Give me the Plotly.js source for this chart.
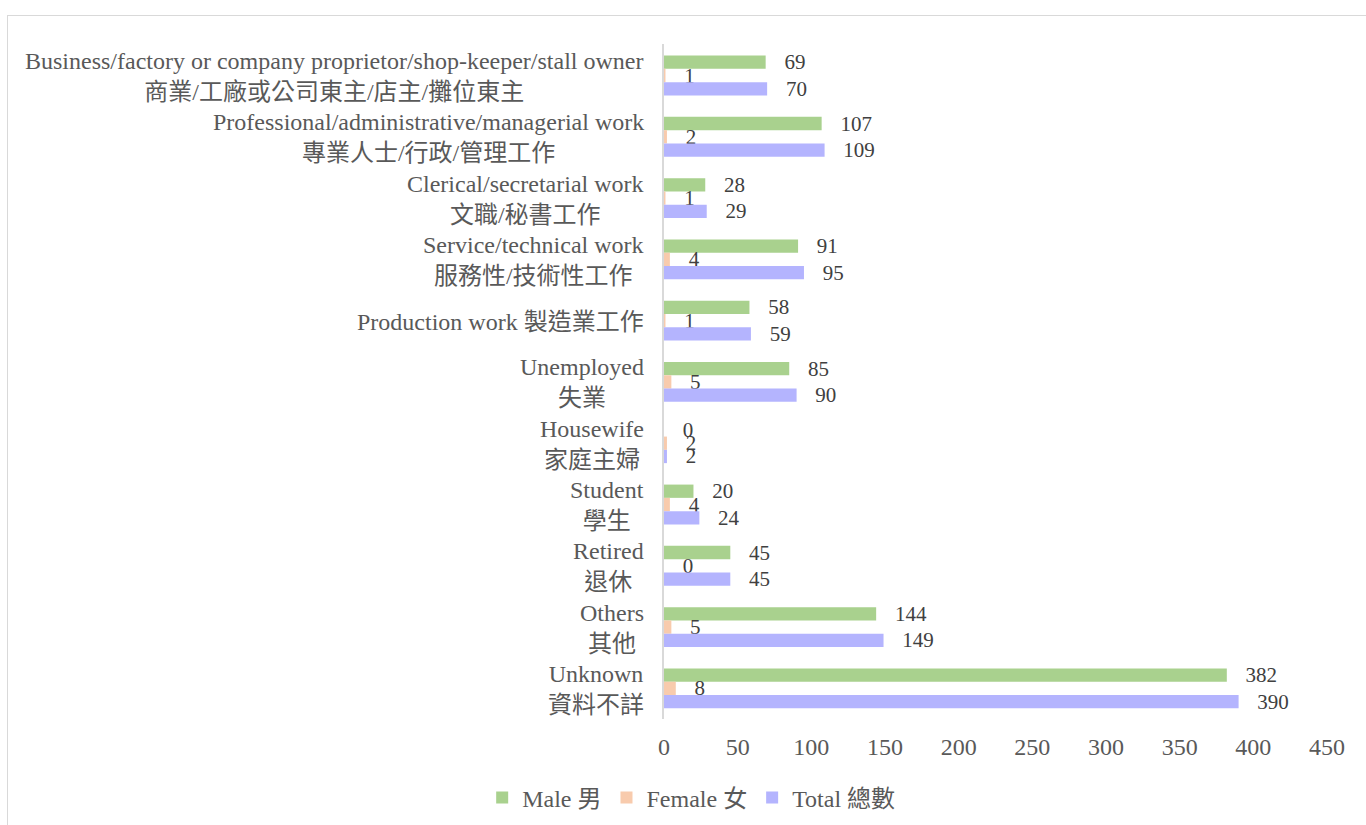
<!DOCTYPE html>
<html>
<head>
<meta charset="utf-8">
<script src="https://cdn.plot.ly/plotly-3.0.1.min.js"></script>
<style>
  html, body { margin: 0; padding: 0; background: #ffffff; }
  #wrap { position: relative; width: 1366px; height: 825px; overflow: hidden; }
  #chart { position: absolute; left: 0; top: 0; width: 1366px; height: 825px; }
  #frame { position: absolute; left: 7px; top: 15px; width: 1400px; height: 900px;
           border-top: 1px solid #d9d9d9; border-left: 1px solid #d9d9d9; pointer-events: none; }
</style>
</head>
<body>
<div id="wrap">
  <div id="chart"></div>
  <div id="frame"></div>
</div>
<script>
const categories = [
  "Business/factory or company proprietor/shop-keeper/stall owner<br>商業/工廠或公司東主/店主/攤位東主",
  "Professional/administrative/managerial work<br>專業人士/行政/管理工作",
  "Clerical/secretarial work<br>文職/秘書工作",
  "Service/technical work<br>服務性/技術性工作",
  "Production work 製造業工作",
  "Unemployed<br>失業",
  "Housewife<br>家庭主婦",
  "Student<br>學生",
  "Retired<br>退休",
  "Others<br>其他",
  "Unknown<br>資料不詳"
];
const seriesNames = ["Male 男", "Female 女", "Total 總數"];
const male   = [69, 107, 28, 91, 58, 85, 0, 20, 45, 144, 382];
const female = [1, 2, 1, 4, 1, 5, 2, 4, 0, 5, 8];
const total  = [70, 109, 29, 95, 59, 90, 2, 24, 45, 149, 390];
const xTicks = [0, 50, 100, 150, 200, 250, 300, 350, 400, 450];

const colors = ["#A9D18E", "#F8CBAD", "#B4B4FE"];
const FONT = "'Liberation Serif', 'Times New Roman', 'Noto Sans CJK TC', serif";

function barTrace(name, vals, color) {
  return {
    type: "bar",
    orientation: "h",
    name: name,
    y: categories,
    x: vals,
    marker: { color: color, line: { width: 0 } },
    texttemplate: "\u00a0\u00a0\u00a0%{x}",
    textposition: "outside",
    constraintext: "none",
    cliponaxis: false,
    textfont: { family: FONT, size: 21, color: "#404040" },
    hoverinfo: "x+name"
  };
}

const data = [
  barTrace(seriesNames[0], male, colors[0]),
  barTrace(seriesNames[1], female, colors[1]),
  barTrace(seriesNames[2], total, colors[2])
];

const annotations = categories.map(c => ({
  xref: "paper", yref: "y",
  x: 0, y: c,
  xanchor: "right", yanchor: "middle",
  xshift: -18,
  yshift: -1,
  align: "center",
  showarrow: false,
  text: c,
  font: { family: FONT, size: 24, color: "#595959" }
}));

const layout = {
  width: 1366, height: 825,
  paper_bgcolor: "#ffffff", plot_bgcolor: "#ffffff",
  margin: { l: 664, r: 39, t: 44, b: 106, autoexpand: false },
  barmode: "group",
  bargap: 0.35,
  bargroupgap: 0,
  font: { family: FONT, color: "#595959" },
  xaxis: {
    range: [0, 450],
    tickvals: xTicks,
    ticktext: xTicks.map(String),
    showgrid: false,
    zeroline: false,
    showline: false,
    ticks: "outside",
    ticklen: 6,
    tickcolor: "rgba(0,0,0,0)",
    tickfont: { family: FONT, size: 24, color: "#595959" },
    automargin: false,
    fixedrange: true
  },
  yaxis: {
    type: "category",
    autorange: "reversed",
    showticklabels: false,
    showgrid: false,
    zeroline: false,
    showline: true,
    linecolor: "#d9d9d9",
    linewidth: 2,
    ticks: "",
    automargin: false,
    fixedrange: true
  },
  legend: {
    orientation: "h",
    x: 0.041, xanchor: "center",
    y: -0.117, yanchor: "middle",
    traceorder: "normal",
    font: { family: FONT, size: 24, color: "#595959" },
    bgcolor: "rgba(0,0,0,0)"
  },
  annotations: annotations,
  showlegend: true
};

Plotly.newPlot("chart", data, layout, { displayModeBar: false, staticPlot: true });
</script>
</body>
</html>
